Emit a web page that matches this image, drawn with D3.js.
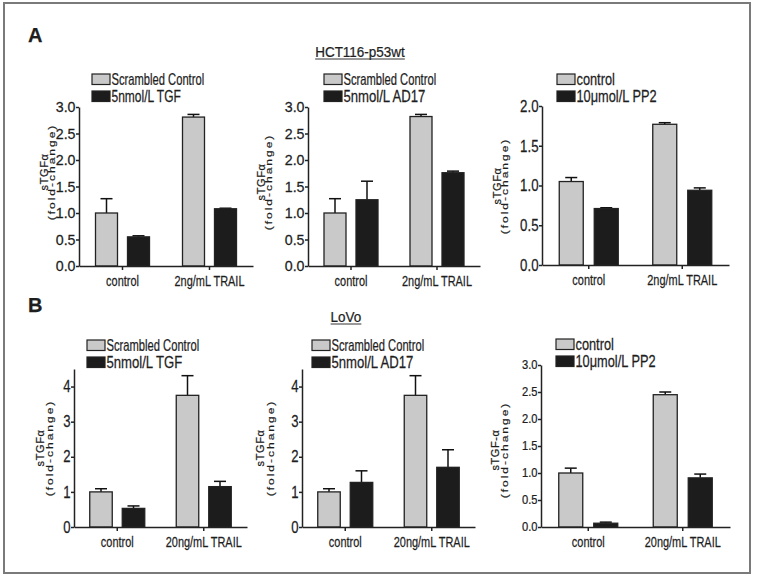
<!DOCTYPE html>
<html>
<head>
<meta charset="utf-8">
<script src="https://cdn.jsdelivr.net/npm/d3@7"></script>
<style>
  body { margin: 0; background: #fff; }
  svg { display: block; }
  text { fill: #1e1e1e; stroke: #1e1e1e; stroke-width: 0.25px; }
</style>
</head>
<body>
<div id="fig"></div>
<script>
// categories
const catsA = ["control", "2ng/mL TRAIL"]
const catsB = ["control", "20ng/mL TRAIL"]

// values (mean, upper error)
const a1Scr = [1.00, 2.81], a1ScrErr = [0.27, 0.05]
const a1Tgf = [0.55, 1.08], a1TgfErr = [0.02, 0.01]
const a2Scr = [1.00, 2.82], a2ScrErr = [0.27, 0.04]
const a2Ad = [1.25, 1.76], a2AdErr = [0.35, 0.03]
const a3Ctl = [1.05, 1.77], a3CtlErr = [0.05, 0.02]
const a3Pp = [0.71, 0.94], a3PpErr = [0.01, 0.03]

const b1Scr = [1.00, 3.75], b1ScrErr = [0.09, 0.56]
const b1Tgf = [0.53, 1.15], b1TgfErr = [0.07, 0.15]
const b2Scr = [1.00, 3.75], b2ScrErr = [0.09, 0.56]
const b2Ad = [1.27, 1.70], b2AdErr = [0.33, 0.50]
const b3Ctl = [1.00, 2.45], b3CtlErr = [0.09, 0.05]
const b3Pp = [0.07, 0.91], b3PpErr = [0.02, 0.07]

// tick labels
const ticksA12 = [0, 0.5, 1.0, 1.5, 2.0, 2.5, 3.0]
const ticksA3 = [0, 0.5, 1.0, 1.5, 2.0]
const ticksB12 = [0, 1, 2, 3, 4]
const ticksB3 = [0, 0.5, 1.0, 1.5, 2.0, 2.5, 3.0]

// legend labels
const legTgf = ["Scrambled Control", "5nmol/L TGF"]
const legAd = ["Scrambled Control", "5nmol/L AD17"]
const legPp = ["control", "10\u03bcmol/L PP2"]

const W = 760, H = 579
const sans = "'Liberation Sans', Arial, sans-serif"

const svg = d3.select("#fig").append("svg")
  .attr("width", W)
  .attr("height", H)

// the figure text is squashed sideways, so squeeze glyphs around their anchor
function squeeze(sel, sx) {
  sel.each(function () {
    const t = d3.select(this)
    const x = +t.attr("x") || 0
    t.attr("transform", `translate(${x},0) scale(${sx},1) translate(${-x},0)`)
  })
}

// frame
svg.append("rect")
  .attr("x", 4).attr("y", 3)
  .attr("width", 746).attr("height", 570)
  .attr("fill", "none")
  .attr("stroke", "#7a7a7a")
  .attr("stroke-width", 2)

// panel letters
svg.append("text").attr("x", 28).attr("y", 42)
  .style("font", "bold 20px " + sans).text("A")
svg.append("text").attr("x", 28).attr("y", 312)
  .style("font", "bold 20px " + sans).text("B")

// underlined cell line titles
function title(txt, cx, by) {
  const t = svg.append("text")
    .attr("x", cx).attr("y", by)
    .attr("text-anchor", "middle")
    .style("font", "15px " + sans)
    .call(squeeze, 0.9)
    .text(txt)
  const w = t.node().getComputedTextLength() * 0.9
  svg.append("line")
    .attr("x1", cx - w / 2).attr("x2", cx + w / 2)
    .attr("y1", by + 2).attr("y2", by + 2)
    .attr("stroke", "#333").attr("stroke-width", 1)
}
title("HCT116-p53wt", 360, 57)
title("LoVo", 346, 322)

const panels = [
  {cats: catsA, s1: a1Scr, e1: a1ScrErr, s2: a1Tgf, e2: a1TgfErr, leg: legTgf, ticks: ticksA12, max: 3, fmt: ".1f",
   x0: 79, w: 174, y0: 266, yTop: 107, barW: 22, gap: 10, tickPx: 15, tickSx: 0.95,
   legX: 92, legY: 74, legSx: [0.7, 0.75], lab: "sTGF\u03b1", labX1: 44, labX2: 51.5, labY: 172},
  {cats: catsA, s1: a2Scr, e1: a2ScrErr, s2: a2Ad, e2: a2AdErr, leg: legAd, ticks: ticksA12, max: 3, fmt: ".1f",
   x0: 308, w: 172, y0: 266, yTop: 107, barW: 22, gap: 10, tickPx: 15, tickSx: 0.95,
   legX: 324, legY: 74, legSx: [0.7, 0.82], lab: "sTGF\u03b1", labX1: 261, labX2: 268.5, labY: 182},
  {cats: catsA, s1: a3Ctl, e1: a3CtlErr, s2: a3Pp, e2: a3PpErr, leg: legPp, ticks: ticksA3, max: 2, fmt: ".1f",
   x0: 542, w: 187, y0: 265, yTop: 106, barW: 24, gap: 11, tickPx: 17, tickSx: 0.78,
   legX: 557, legY: 74, legSx: [0.8, 0.8], lab: "sTGF\u03b1", labX1: 497, labX2: 505, labY: 186},
  {cats: catsB, s1: b1Scr, e1: b1ScrErr, s2: b1Tgf, e2: b1TgfErr, leg: legTgf, ticks: ticksB12, max: 4.5, fmt: "d",
   x0: 74, w: 173, y0: 527, yTop: 369, barW: 22.5, gap: 10, tickPx: 16, tickSx: 0.82,
   legX: 87, legY: 340, legSx: [0.7, 0.82], lab: "sTGF\u03b1", labX1: 39.5, labX2: 50, labY: 448},
  {cats: catsB, s1: b2Scr, e1: b2ScrErr, s2: b2Ad, e2: b2AdErr, leg: legAd, ticks: ticksB12, max: 4.5, fmt: "d",
   x0: 302, w: 173, y0: 527, yTop: 369, barW: 22.5, gap: 10, tickPx: 16, tickSx: 0.82,
   legX: 312, legY: 340, legSx: [0.7, 0.82], lab: "sTGF\u03b1", labX1: 260, labX2: 271, labY: 448},
  {cats: catsB, s1: b3Ctl, e1: b3CtlErr, s2: b3Pp, e2: b3PpErr, leg: legPp, ticks: ticksB3, max: 3, fmt: ".1f",
   x0: 541, w: 189, y0: 527, yTop: 365, barW: 24, gap: 11, tickPx: 12, tickSx: 0.93,
   legX: 556, legY: 339, legSx: [0.8, 0.8], lab: "sTGF-\u03b1", labX1: 495, labX2: 505, labY: 450}
]

const fills = ["#c9c9c9", "#1c1c1c"]
const keys = ["s1", "s2"]

panels.forEach(p => {
  const g = svg.append("g")

  const x = d3.scaleBand().domain(p.cats).range([p.x0, p.x0 + p.w])
  const half = p.barW + p.gap / 2
  const xSub = d3.scaleBand().domain(keys)
    .range([-half, half])
    .paddingInner(p.gap / (p.barW + p.gap))
  const y = d3.scaleLinear().domain([0, p.max]).range([p.y0, p.yTop])

  // bars + upper error bars
  keys.forEach((k, ki) => {
    const vals = p[k], errs = ki === 0 ? p.e1 : p.e2
    p.cats.forEach((c, i) => {
      const bx = x(c) + x.bandwidth() / 2 + xSub(k)
      const cx = bx + xSub.bandwidth() / 2
      g.append("line")
        .attr("x1", cx).attr("x2", cx)
        .attr("y1", y(vals[i])).attr("y2", y(vals[i] + errs[i]))
        .attr("stroke", "#111").attr("stroke-width", 1.5)
      g.append("line")
        .attr("x1", cx - 6).attr("x2", cx + 6)
        .attr("y1", y(vals[i] + errs[i])).attr("y2", y(vals[i] + errs[i]))
        .attr("stroke", "#111").attr("stroke-width", 1.5)
      g.append("rect")
        .attr("x", bx)
        .attr("y", y(vals[i]))
        .attr("width", xSub.bandwidth())
        .attr("height", y(0) - y(vals[i]))
        .attr("fill", fills[ki])
        .attr("stroke", "#222")
        .attr("stroke-width", 1.3)
    })
  })

  // y axis
  const yAxis = g.append("g")
    .attr("transform", `translate(${p.x0},0)`)
    .call(d3.axisLeft(y).tickValues(p.ticks).tickFormat(d3.format(p.fmt))
      .tickSize(3).tickPadding(0.5).tickSizeOuter(0))
  yAxis.selectAll("text")
    .style("font", p.tickPx + "px " + sans).attr("fill", "#1e1e1e")
    .call(squeeze, p.tickSx)

  // x axis
  const xAxis = g.append("g")
    .attr("transform", `translate(0,${p.y0})`)
    .call(d3.axisBottom(x).tickSize(4).tickPadding(5).tickSizeOuter(0))
  xAxis.selectAll("text")
    .style("font", "15px " + sans).attr("fill", "#1e1e1e")
    .call(squeeze, 0.73)

  svg.selectAll(".domain, .tick line")
    .attr("stroke", "#222").attr("stroke-width", 1.5)

  // y label, two rotated lines
  g.append("text")
    .attr("transform", `translate(${p.labX1},${p.labY}) rotate(-90)`)
    .attr("text-anchor", "middle")
    .attr("dominant-baseline", "central")
    .style("font", "11px " + sans)
    .style("letter-spacing", "0.6px")
    .text(p.lab)
  g.append("text")
    .attr("transform", `translate(${p.labX2},${p.labY}) scale(0.78,1) rotate(-90)`)
    .attr("text-anchor", "middle")
    .attr("dominant-baseline", "central")
    .style("font", "12px " + sans)
    .style("letter-spacing", "2px")
    .text("(fold-change)")

  // legend
  p.leg.forEach((name, i) => {
    const ly = p.legY + i * 17
    g.append("rect")
      .attr("x", p.legX).attr("y", ly)
      .attr("width", 18).attr("height", 10.5)
      .attr("fill", fills[i])
      .attr("stroke", "#222").attr("stroke-width", 1.2)
    g.append("text")
      .attr("transform", `translate(${p.legX + 19.5},${ly + 11}) scale(${p.legSx[i]},1)`)
      .style("font", "16px " + sans)
      .text(name)
  })
})
</script>
</body>
</html>
